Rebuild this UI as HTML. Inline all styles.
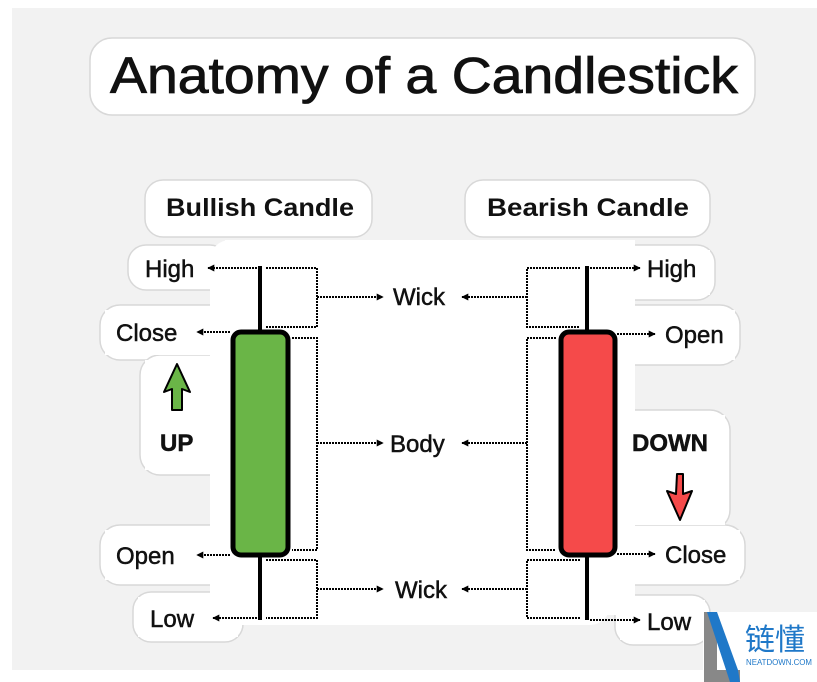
<!DOCTYPE html>
<html><head><meta charset="utf-8"><style>
body{margin:0;background:#fff;}
svg{display:block;font-family:"Liberation Sans",sans-serif;}
</style></head><body>
<svg width="817" height="682" viewBox="0 0 817 682" xmlns="http://www.w3.org/2000/svg">
<defs>
<marker id="ar" viewBox="0 0 10 10" refX="9" refY="5" markerWidth="3.5" markerHeight="3.5" orient="auto"><path d="M0,0 L10,5 L0,10 z" fill="#000"/></marker>
</defs>
<rect x="12" y="8" width="805" height="662" fill="#f2f2f2"/>
<g fill="#fff" stroke="#d8d8d8" stroke-width="1.5">
<rect x="90" y="38" width="665" height="77" rx="22"/>
<rect x="145" y="180" width="227" height="57" rx="18"/>
<rect x="465" y="180" width="245" height="57" rx="18"/>
<rect x="128" y="245" width="100" height="45" rx="18"/>
<rect x="100" y="305" width="130" height="55" rx="20"/>
<rect x="140" y="355" width="95" height="120" rx="20"/>
<rect x="100" y="525" width="130" height="60" rx="20"/>
<rect x="133" y="592" width="110" height="50" rx="18"/>
<rect x="615" y="245" width="100" height="55" rx="18"/>
<rect x="615" y="305" width="125" height="60" rx="20"/>
<rect x="615" y="410" width="115" height="120" rx="20"/>
<rect x="615" y="525" width="130" height="60" rx="20"/>
<rect x="615" y="595" width="95" height="50" rx="18"/>
</g>
<rect x="210" y="240" width="400" height="385" rx="20" fill="#fff"/>
<rect x="225" y="240" width="410" height="375" fill="#fff"/>
<rect x="105" y="310" width="120" height="45" fill="#fff"/>
<rect x="105" y="530" width="120" height="50" fill="#fff"/>
<rect x="138" y="597" width="100" height="40" fill="#fff"/>
<rect x="620" y="250" width="90" height="45" fill="#fff"/>
<rect x="620" y="310" width="115" height="50" fill="#fff"/>
<rect x="620" y="530" width="120" height="50" fill="#fff"/>
<rect x="620" y="600" width="85" height="40" fill="#fff"/>
<rect x="145" y="360" width="85" height="110" fill="#fff"/>
<rect x="620" y="415" width="105" height="110" fill="#fff"/>

<text x="424" y="93" font-size="51" text-anchor="middle" fill="#111" stroke="#111" stroke-width="0.8" textLength="628" lengthAdjust="spacingAndGlyphs">Anatomy of a Candlestick</text>
<text x="260" y="216" font-size="25" font-weight="bold" text-anchor="middle" fill="#111" textLength="188" lengthAdjust="spacingAndGlyphs">Bullish Candle</text>
<text x="588" y="216" font-size="25" font-weight="bold" text-anchor="middle" fill="#111" textLength="202" lengthAdjust="spacingAndGlyphs">Bearish Candle</text>

<g stroke="#000" stroke-width="2" stroke-dasharray="2,1" fill="none">
<path d="M266 268 H317 V327 H266"/><path d="M317 297 H383" marker-end="url(#ar)"/>
<path d="M292 338 H317 V550 H292"/><path d="M317 443 H383" marker-end="url(#ar)"/>
<path d="M266 560 H317 V618 H266"/><path d="M317 589 H383" marker-end="url(#ar)"/>
<path d="M580 268 H527 V327 H580"/><path d="M527 297 H462" marker-end="url(#ar)"/>
<path d="M556 338 H527 V550 H556"/><path d="M527 443 H462" marker-end="url(#ar)"/>
<path d="M580 560 H527 V618 H580"/><path d="M527 589 H462" marker-end="url(#ar)"/>
<path d="M257 268 H208" marker-end="url(#ar)"/>
<path d="M230 332 H197" marker-end="url(#ar)"/>
<path d="M230 555 H197" marker-end="url(#ar)"/>
<path d="M257 618 H213" marker-end="url(#ar)"/>
<path d="M590 268 H640" marker-end="url(#ar)"/>
<path d="M617 334 H655" marker-end="url(#ar)"/>
<path d="M617 554 H655" marker-end="url(#ar)"/>
<path d="M590 620 H640" marker-end="url(#ar)"/>
</g>
<g font-size="24" fill="#111" stroke="#111" stroke-width="0.5">
<text x="393" y="305">Wick</text>
<text x="390" y="452">Body</text>
<text x="395" y="598">Wick</text>
<text x="145" y="277">High</text>
<text x="116" y="341">Close</text>
<text x="160" y="451" font-weight="bold">UP</text>
<text x="116" y="564">Open</text>
<text x="150" y="627">Low</text>
<text x="647" y="277">High</text>
<text x="665" y="343">Open</text>
<text x="632" y="451" font-weight="bold">DOWN</text>
<text x="665" y="563">Close</text>
<text x="647" y="630">Low</text>
</g>
<line x1="260" y1="266" x2="260" y2="620" stroke="#000" stroke-width="4"/>
<rect x="233" y="332" width="55" height="223" rx="8" fill="#6ab547" stroke="#000" stroke-width="5"/>
<line x1="587" y1="266" x2="587" y2="620" stroke="#000" stroke-width="4"/>
<rect x="561" y="332" width="54" height="223" rx="8" fill="#f54a4a" stroke="#000" stroke-width="5"/>
<path d="M177 364 L190 392 L182 389 L182 410 L172 410 L172 389 L164 392 Z" fill="#6ab547" stroke="#000" stroke-width="2" stroke-linejoin="round"/>
<path d="M677 474 L683 474 L683 494 L692 491 L680 520 L667 491 L676 494 Z" fill="#f54a4a" stroke="#000" stroke-width="2" stroke-linejoin="round"/>

<rect x="703" y="612" width="114" height="70" fill="#fff"/>
<path d="M704 612 L717 612 L717 670 L740 670 L740 682 L704 682 Z" fill="#888"/>
<path d="M707 612 L717 612 L738 670 L740 682 L730 682 Z" fill="#1f78c8"/>
<text x="745" y="650" font-size="30" fill="#1f78c8" font-family="'Liberation Sans','Noto Sans CJK SC',sans-serif">链懂</text>
<text x="746" y="665" font-size="8" fill="#1f78c8" textLength="66" lengthAdjust="spacingAndGlyphs">NEATDOWN.COM</text>
</svg>
</body></html>
